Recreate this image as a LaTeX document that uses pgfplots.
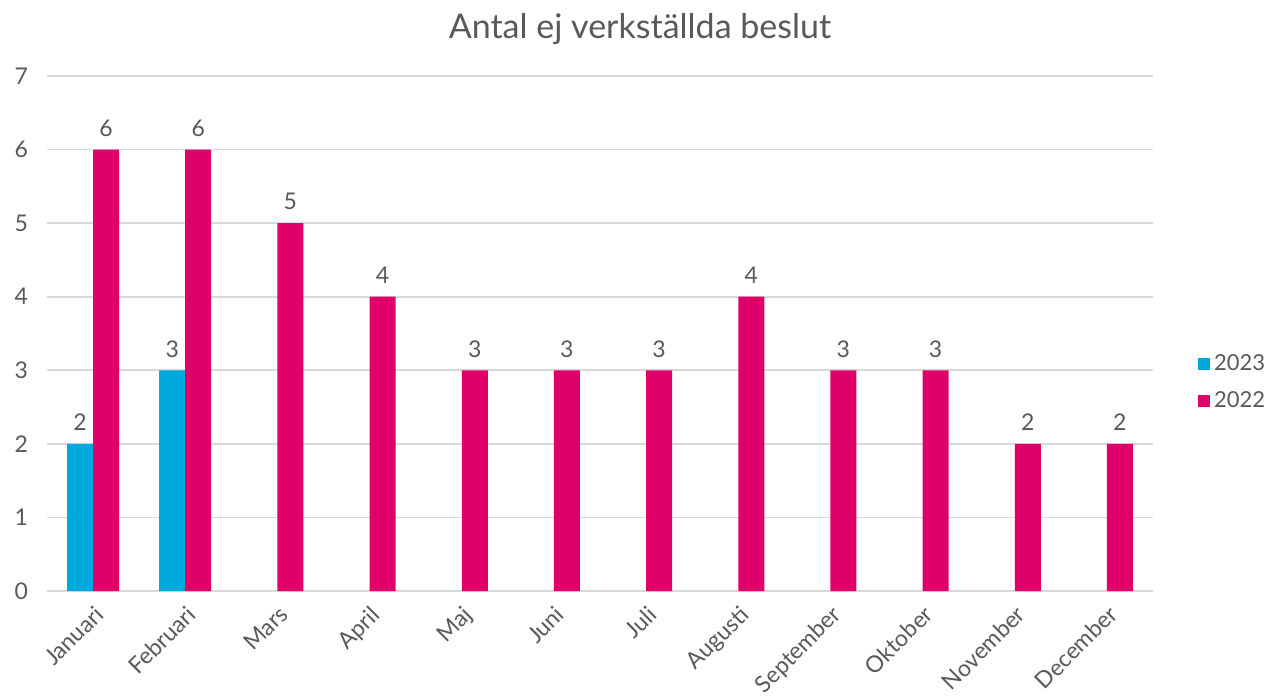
\documentclass[border=0pt]{standalone}
\usepackage{pgfplots}
\pgfplotsset{compat=1.18}
\usepackage{fontspec}
\setmainfont{Lato}
\definecolor{c23}{HTML}{00A9DC}
\definecolor{c22}{HTML}{E0006A}
\definecolor{txt}{HTML}{595959}
\definecolor{grd}{HTML}{D9D9D9}
\begin{document}
\begin{tikzpicture}
\path[use as bounding box] (-23.5pt,-53pt) rectangle (609.5pt,295.5pt);
\begin{axis}[
  scale only axis,
  width=553pt, height=257.5pt,
  ymin=0, ymax=7,
  xmin=-0.5, xmax=11.5,
  ybar=0pt, bar width=13pt,
  ytick={0,...,7},
  xtick={0,...,11},
  xticklabels={Januari,Februari,Mars,April,Maj,Juni,Juli,Augusti,September,Oktober,November,December},
  x tick label style={rotate=45, anchor=north east, font=\fontsize{11.5}{12}\selectfont, text=txt, inner sep=1pt},
  xticklabel shift=5pt,
  y tick label style={font=\fontsize{11.5}{12}\selectfont, text=txt, xshift=-6pt},
  /pgf/number format/assume math mode=true,
  ymajorgrids, grid style={grd, line width=0.8pt},
  axis x line*=bottom, axis y line*=left,
  x axis line style={grd, line width=0.8pt},
  y axis line style={draw=none},
  major tick length=0pt,
  tick style={draw=none},
  title={Antal ej verkställda beslut},
  title style={font=\fontsize{17}{20}\selectfont, text=txt, yshift=6pt, xshift=20pt},
  nodes near coords,
  nodes near coords style={font=\fontsize{11.5}{12}\selectfont, text=txt, yshift=3pt},
  legend style={at={(axis description cs:1.035,0.405)}, anchor=west, draw=none, fill=none, font=\fontsize{11}{12}\selectfont, text=txt, row sep=5pt},
  legend image code/.code={\fill[#1] (0pt,-3pt) rectangle (6pt,3pt);},
]
\addplot[fill=c23, draw=none] coordinates {(0,2) (1,3)};
\addplot[fill=c22, draw=none] coordinates {(0,6) (1,6) (2,5) (3,4) (4,3) (5,3) (6,3) (7,4) (8,3) (9,3) (10,2) (11,2)};
\legend{2023,2022}
\end{axis}
\end{tikzpicture}
\end{document}
